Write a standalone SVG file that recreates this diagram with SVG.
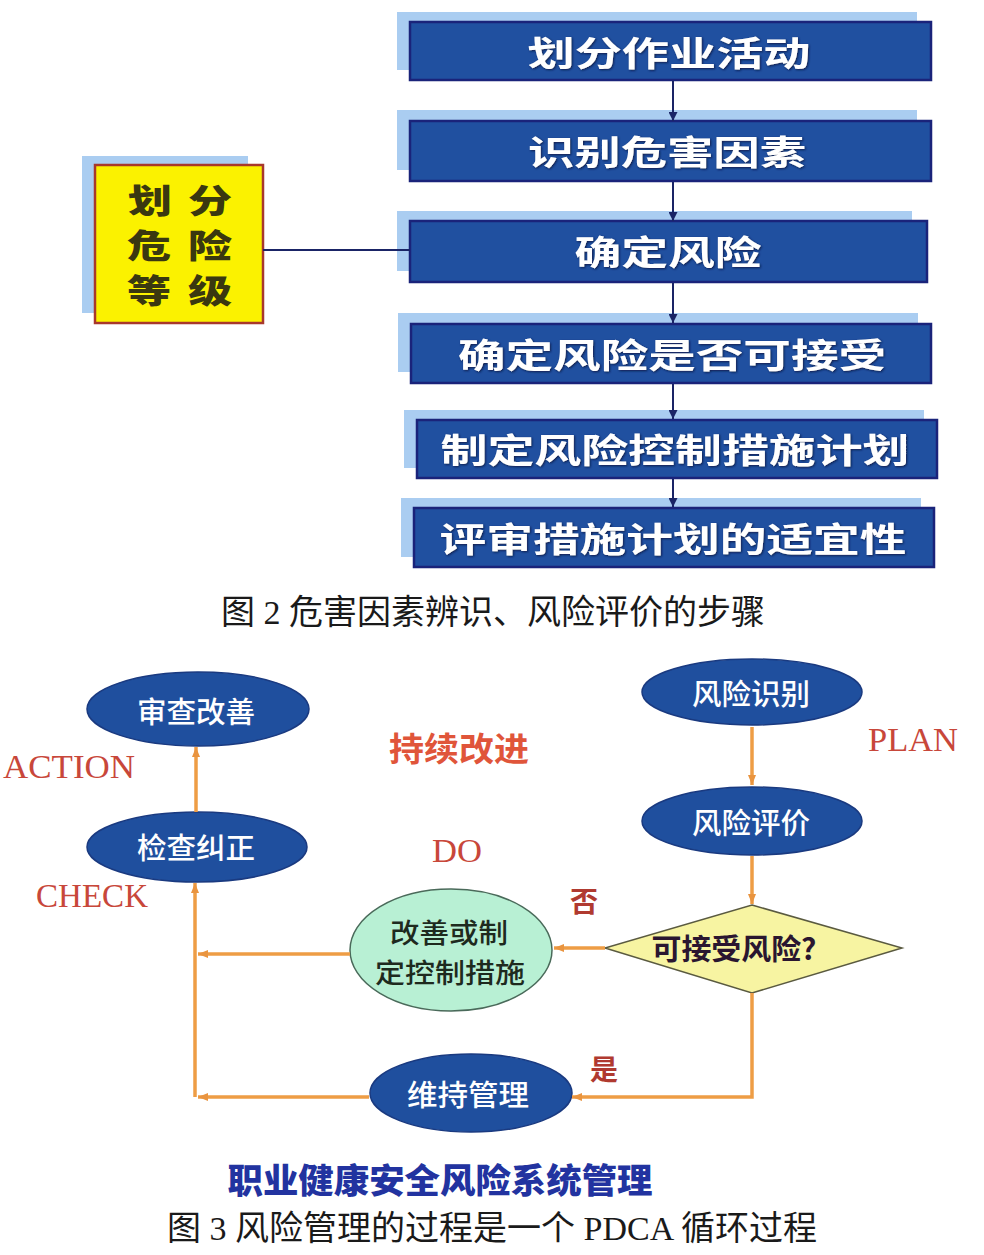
<svg xmlns="http://www.w3.org/2000/svg" width="984" height="1255" viewBox="0 0 984 1255">
<defs>
<marker id="an" viewBox="0 0 10 10" refX="10" refY="5" markerWidth="9" markerHeight="9" markerUnits="userSpaceOnUse" orient="auto"><path d="M0,0 L10,5 L0,10 z" fill="#1a2466"/></marker>
<marker id="ao" viewBox="0 0 10 10" refX="10" refY="5" markerWidth="12" markerHeight="10" markerUnits="userSpaceOnUse" orient="auto"><path d="M0,1 L10,5 L0,9 z" fill="#e9943f"/></marker>
<filter id="ts" x="-10%" y="-30%" width="120%" height="160%"><feDropShadow dx="1" dy="1" stdDeviation="0.8" flood-color="#0a1640" flood-opacity="0.9"/></filter>
</defs>
<style>
.shadow{fill:#aacdf1}
.box{fill:#2050a0;stroke:#1a237a;stroke-width:2.5}
.bt{font-family:"Noto Sans CJK SC",sans-serif;font-weight:700;font-size:34px;fill:#ffffff;text-anchor:middle;dominant-baseline:central}
.yt{font-family:"Noto Sans CJK SC",sans-serif;font-weight:900;font-size:33px;fill:#3a3810;text-anchor:middle;dominant-baseline:central}
.cap{font-family:"Liberation Serif","Noto Sans CJK SC",serif;font-size:34px;fill:#1a1a1a;text-anchor:middle;dominant-baseline:central}
.ell{fill:#1f4f9e;stroke:#1a3a80;stroke-width:1.5}
.et{font-family:"Noto Sans CJK SC",sans-serif;font-weight:500;font-size:29px;fill:#ffffff;text-anchor:middle;dominant-baseline:central}
.dt{font-family:"Noto Sans CJK SC",sans-serif;font-weight:700;font-size:29px;fill:#2a1630;text-anchor:middle;dominant-baseline:central}
.gt{font-family:"Noto Sans CJK SC",sans-serif;font-weight:500;font-size:27px;fill:#1e2a1e;text-anchor:middle;dominant-baseline:central}
.en{font-family:"Liberation Serif",serif;font-size:34px;fill:#c8473a}
.rz{font-family:"Noto Sans CJK SC",sans-serif;font-weight:700;font-size:28px;fill:#b03a30;text-anchor:middle;dominant-baseline:central}
.nc{stroke:#1a2466;stroke-width:2;fill:none}
.oc{stroke:#ee9d45;stroke-width:3.5;fill:none}
</style>

<g id="step1"><rect class="shadow" x="397" y="12" width="520" height="58"/><rect class="box" x="410" y="22" width="521" height="58"/><text class="bt" x="669" y="51" textLength="283" lengthAdjust="spacingAndGlyphs" filter="url(#ts)">划分作业活动</text></g>
<g id="step2"><rect class="shadow" x="397" y="110" width="520" height="60"/><rect class="box" x="410" y="121" width="521" height="60"/><text class="bt" x="667" y="150" textLength="278" lengthAdjust="spacingAndGlyphs" filter="url(#ts)">识别危害因素</text></g>
<g id="step3"><rect class="shadow" x="397" y="211" width="515" height="60"/><rect class="box" x="410" y="221" width="517" height="61"/><text class="bt" x="668" y="250" textLength="187" lengthAdjust="spacingAndGlyphs" filter="url(#ts)">确定风险</text></g>
<g id="step4"><rect class="shadow" x="398" y="313" width="520" height="59"/><rect class="box" x="411" y="324" width="520" height="59"/><text class="bt" x="672" y="353" textLength="428" lengthAdjust="spacingAndGlyphs" filter="url(#ts)">确定风险是否可接受</text></g>
<g id="step5"><rect class="shadow" x="404" y="410" width="520" height="58"/><rect class="box" x="417" y="420" width="520" height="58"/><text class="bt" x="675" y="448" textLength="469" lengthAdjust="spacingAndGlyphs" filter="url(#ts)">制定风险控制措施计划</text></g>
<g id="step6"><rect class="shadow" x="401" y="498" width="520" height="59"/><rect class="box" x="414" y="508" width="520" height="59"/><text class="bt" x="673" y="537" textLength="467" lengthAdjust="spacingAndGlyphs" filter="url(#ts)">评审措施计划的适宜性</text></g>

<g id="grade"><rect class="shadow" x="82" y="156" width="166" height="157"/><rect x="95" y="165" width="168" height="158" fill="#fbf200" stroke="#a8382c" stroke-width="2.5"/>
<text class="yt" x="150" y="199" textLength="44" lengthAdjust="spacingAndGlyphs">划</text><text class="yt" x="210" y="199" textLength="44" lengthAdjust="spacingAndGlyphs">分</text>
<text class="yt" x="149" y="244" textLength="44" lengthAdjust="spacingAndGlyphs">危</text><text class="yt" x="210" y="244" textLength="44" lengthAdjust="spacingAndGlyphs">险</text>
<text class="yt" x="149" y="289" textLength="44" lengthAdjust="spacingAndGlyphs">等</text><text class="yt" x="210" y="289" textLength="44" lengthAdjust="spacingAndGlyphs">级</text></g>

<text id="caption1" class="cap" x="493" y="612">图 2 危害因素辨识、风险评价的步骤</text>

<g id="review"><ellipse class="ell" cx="198" cy="709" rx="111" ry="37"/><text class="et" x="196" y="710" textLength="118" lengthAdjust="spacingAndGlyphs">审查改善</text></g>
<g id="check"><ellipse class="ell" cx="197" cy="847" rx="110" ry="35"/><text class="et" x="196" y="846" textLength="118" lengthAdjust="spacingAndGlyphs">检查纠正</text></g>
<g id="identify"><ellipse class="ell" cx="752" cy="692" rx="110" ry="33"/><text class="et" x="751" y="692" textLength="118" lengthAdjust="spacingAndGlyphs">风险识别</text></g>
<g id="evaluate"><ellipse class="ell" cx="752" cy="821" rx="110" ry="34"/><text class="et" x="751" y="821" textLength="118" lengthAdjust="spacingAndGlyphs">风险评价</text></g>
<g id="decision"><polygon points="752,905 902,948 752,993 605,948" fill="#f7f4a2" stroke="#5a5a40" stroke-width="1.5"/><text class="dt" x="734" y="947" textLength="165" lengthAdjust="spacingAndGlyphs">可接受风险?</text></g>
<g id="measures"><ellipse cx="451" cy="950" rx="101" ry="61" fill="#b8f0d4" stroke="#4a6a5a" stroke-width="1.5"/><text class="gt" x="449" y="931" textLength="118" lengthAdjust="spacingAndGlyphs">改善或制</text><text class="gt" x="450" y="971" textLength="150" lengthAdjust="spacingAndGlyphs">定控制措施</text></g>
<g id="maintain"><ellipse class="ell" cx="471" cy="1093" rx="101" ry="39"/><text class="et" x="468" y="1093" textLength="122" lengthAdjust="spacingAndGlyphs">维持管理</text></g>

<g id="labels">
<text class="en" x="3" y="778" textLength="132" lengthAdjust="spacingAndGlyphs">ACTION</text>
<text class="en" x="36" y="907" textLength="112" lengthAdjust="spacingAndGlyphs">CHECK</text>
<text class="en" x="432" y="862" textLength="50" lengthAdjust="spacingAndGlyphs">DO</text>
<text class="en" x="868" y="751" textLength="90" lengthAdjust="spacingAndGlyphs">PLAN</text>
<text x="459" y="747" font-family="'Noto Sans CJK SC',sans-serif" font-weight="700" font-size="33" fill="#e0553a" text-anchor="middle" dominant-baseline="central" textLength="140" lengthAdjust="spacingAndGlyphs">持续改进</text>
<text class="rz" x="584" y="900">否</text>
<text class="rz" x="604" y="1068">是</text>
<text x="440" y="1178" font-family="'Noto Sans CJK SC',sans-serif" font-weight="900" font-size="34" fill="#2233a0" text-anchor="middle" dominant-baseline="central" textLength="425" lengthAdjust="spacingAndGlyphs">职业健康安全风险系统管理</text>
</g>

<text id="caption2" class="cap" x="492" y="1228">图 3 风险管理的过程是一个 PDCA 循环过程</text>

<g id="connectors">
<line class="nc" x1="673" y1="81" x2="673" y2="121" marker-end="url(#an)"/>
<line class="nc" x1="673" y1="182" x2="673" y2="221" marker-end="url(#an)"/>
<line class="nc" x1="673" y1="283" x2="673" y2="323" marker-end="url(#an)"/>
<line class="nc" x1="673" y1="384" x2="673" y2="419" marker-end="url(#an)"/>
<line class="nc" x1="673" y1="479" x2="673" y2="507" marker-end="url(#an)"/>
<line class="nc" x1="263" y1="250" x2="410" y2="250"/>

<line class="oc" x1="752" y1="727" x2="752" y2="785" marker-end="url(#ao)"/>
<line class="oc" x1="752" y1="856" x2="752" y2="904" marker-end="url(#ao)"/>
<line class="oc" x1="605" y1="948" x2="554" y2="948" marker-end="url(#ao)"/>
<line class="oc" x1="350" y1="954" x2="198" y2="954" marker-end="url(#ao)"/>
<polyline class="oc" points="752,993 752,1097 572,1097" marker-end="url(#ao)"/>
<line class="oc" x1="369" y1="1097" x2="198" y2="1097" marker-end="url(#ao)"/>
<line class="oc" x1="195" y1="1097" x2="195" y2="883" marker-end="url(#ao)"/>
<line class="oc" x1="196" y1="812" x2="196" y2="747" marker-end="url(#ao)"/>
</g>
</svg>
